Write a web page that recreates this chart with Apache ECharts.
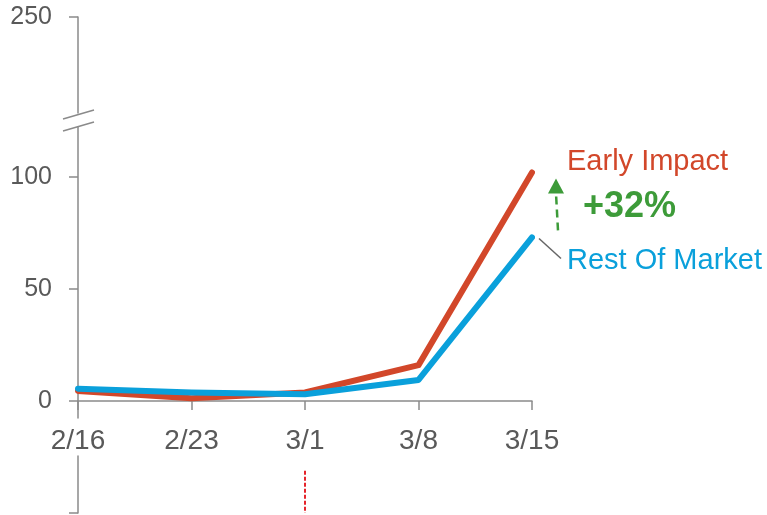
<!DOCTYPE html>
<html>
<head>
<meta charset="utf-8">
<style>
  html, body { margin: 0; padding: 0; background: #ffffff; }
  #chart { width: 767px; height: 515px; }
</style>
<script src="https://cdn.jsdelivr.net/npm/echarts@6/dist/echarts.min.js"></script>
</head>
<body>
<div id="chart"></div>
<script>
// Weekly values
const weeks = ['2/16', '2/23', '3/1', '3/8', '3/15'];
const earlyImpact = [4.5, 1.2, 3.8, 16, 102];
const restOfMarket = [5.5, 3.8, 3.0, 9.4, 73];

// Tick values on the lower (0-100) and upper (broken) value axes
const lowerTicks = [0, 50, 100];
const upperTicks = [250];

const seriesNames = ['Early Impact', 'Rest Of Market'];
const upliftText = '+32%';
const eventWeek = '3/1';

const AXIS = '#8a8a8a';
const TEXT = '#595959';
const RED = '#d2472a';
const BLUE = '#0aa0db';
const GREEN = '#3d9b39';
const FONT = '"Liberation Sans", Arial, sans-serif';

const chart = echarts.init(document.getElementById('chart'), null, { renderer: 'canvas' });

const option = {
  backgroundColor: '#ffffff',
  animation: false,
  grid: [
    // main plot (0 .. ~122)
    { left: 78, right: 235, top: 127, bottom: 97 },
    // upper piece above the axis break
    { left: 78, right: 235, top: 17, height: 96 },
    // lower fragment beneath the date labels
    { left: 78, right: 235, top: 456, height: 57 }
  ],
  xAxis: [
    {
      gridIndex: 0, type: 'category', data: weeks, boundaryGap: false,
      axisLine: { onZero: true, lineStyle: { color: AXIS, width: 1.5 } },
      axisTick: { show: true, length: 9, alignWithLabel: true, lineStyle: { color: AXIS, width: 1.5 } },
      axisLabel: { color: TEXT, fontSize: 28, fontFamily: FONT, margin: 9 },
      splitLine: { show: false }
    },
    { gridIndex: 1, type: 'value', show: false },
    { gridIndex: 2, type: 'category', data: weeks, boundaryGap: false, show: false }
  ],
  yAxis: [
    {
      gridIndex: 0, type: 'value', min: -7.6, max: 122.3,
      axisLine: { show: true, lineStyle: { color: AXIS, width: 1.5 } },
      axisTick: { show: true, length: 9, customValues: lowerTicks, lineStyle: { color: AXIS, width: 1.5 } },
      axisLabel: { color: TEXT, fontSize: 25, fontFamily: FONT, margin: 26, customValues: lowerTicks },
      splitLine: { show: false }
    },
    {
      gridIndex: 1, type: 'value', min: 200, max: 250,
      axisLine: { show: true, lineStyle: { color: AXIS, width: 1.5 } },
      axisTick: { show: true, length: 9, customValues: upperTicks, lineStyle: { color: AXIS, width: 1.5 } },
      axisLabel: { color: TEXT, fontSize: 25, fontFamily: FONT, margin: 26, customValues: upperTicks },
      splitLine: { show: false }
    },
    {
      gridIndex: 2, type: 'value', min: 0, max: 1,
      axisLine: { show: true, lineStyle: { color: AXIS, width: 1.5 } },
      axisTick: { show: true, length: 9, customValues: [0], lineStyle: { color: AXIS, width: 1.5 } },
      axisLabel: { show: false },
      splitLine: { show: false }
    }
  ],
  series: [
    {
      name: seriesNames[0], type: 'line', xAxisIndex: 0, yAxisIndex: 0,
      data: earlyImpact, symbol: 'none', z: 3,
      lineStyle: { color: RED, width: 6, cap: 'round', join: 'round' }
    },
    {
      name: seriesNames[1], type: 'line', xAxisIndex: 0, yAxisIndex: 0,
      data: restOfMarket, symbol: 'none', z: 4,
      lineStyle: { color: BLUE, width: 6, cap: 'round', join: 'round' }
    },
    {
      // event marker below the date axis
      type: 'line', xAxisIndex: 2, yAxisIndex: 2,
      data: weeks.map(() => null), symbol: 'none', silent: true,
      markLine: {
        symbol: 'none', silent: true, label: { show: false },
        lineStyle: { color: '#e5242b', width: 2, type: [4, 2] },
        data: [[{ coord: [eventWeek, 0.74] }, { coord: [eventWeek, 0] }]]
      }
    }
  ]
};

chart.setOption(option);

// annotation layer: series names, uplift callout, axis-break marks
function buildGraphics() {
  const endIdx = weeks.length - 1;
  const redEnd = chart.convertToPixel({ xAxisIndex: 0, yAxisIndex: 0 }, [endIdx, earlyImpact[endIdx]]);
  const blueEnd = chart.convertToPixel({ xAxisIndex: 0, yAxisIndex: 0 }, [endIdx, restOfMarket[endIdx]]);
  const axisX = chart.convertToPixel({ xAxisIndex: 0, yAxisIndex: 0 }, [0, 0])[0];

  const labelX = redEnd[0] + 35;
  const arrowX = redEnd[0] + 24;

  return [
    {
      type: 'text', x: labelX, y: redEnd[1] - 10,
      style: { text: seriesNames[0], fill: RED, font: '29px ' + FONT, textVerticalAlign: 'middle' }
    },
    {
      type: 'text', x: labelX + 16, y: redEnd[1] + 35,
      style: { text: upliftText, fill: GREEN, font: 'bold 36px ' + FONT, textVerticalAlign: 'middle' }
    },
    {
      type: 'text', x: labelX, y: blueEnd[1] + 24,
      style: { text: seriesNames[1], fill: BLUE, font: '29px ' + FONT, textVerticalAlign: 'middle' }
    },
    // leader from the blue line end to its label
    {
      type: 'line',
      shape: { x1: blueEnd[0] + 7, y1: blueEnd[1] + 1, x2: blueEnd[0] + 29, y2: blueEnd[1] + 21 },
      style: { stroke: '#666666', lineWidth: 1.5 }
    },
    // dashed uplift arrow
    {
      type: 'line',
      shape: { x1: arrowX + 2, y1: blueEnd[1] - 7, x2: arrowX, y2: redEnd[1] + 21 },
      style: { stroke: GREEN, lineWidth: 2.5, lineDash: [8, 5] }
    },
    {
      type: 'polygon',
      shape: { points: [[arrowX - 8, redEnd[1] + 21], [arrowX + 8, redEnd[1] + 21], [arrowX, redEnd[1] + 6]] },
      style: { fill: GREEN }
    },
    // axis break marks
    {
      type: 'line',
      shape: { x1: axisX - 15, y1: 119, x2: axisX + 16, y2: 110 },
      style: { stroke: AXIS, lineWidth: 1.5 }
    },
    {
      type: 'line',
      shape: { x1: axisX - 15, y1: 131, x2: axisX + 16, y2: 122 },
      style: { stroke: AXIS, lineWidth: 1.5 }
    }
  ];
}

chart.setOption({ graphic: buildGraphics() });
</script>
</body>
</html>
